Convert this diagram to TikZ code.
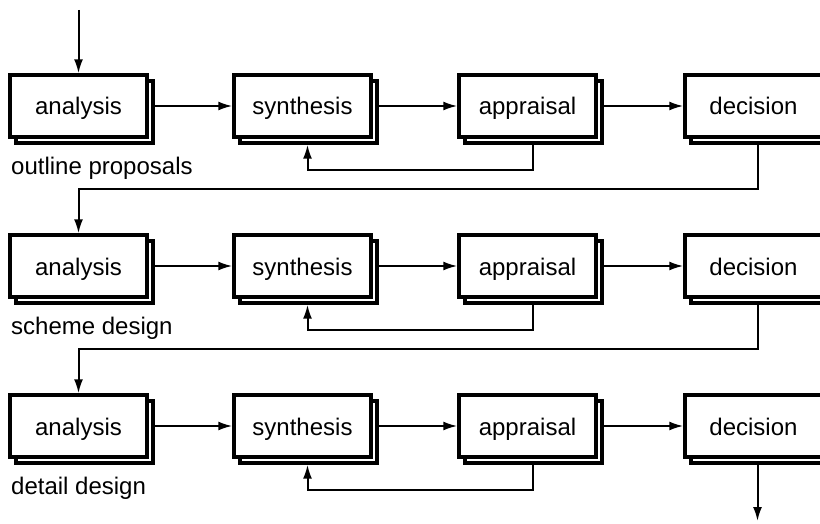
\documentclass[tikz,border=0pt]{standalone}
\usepackage{fontspec}
\setmainfont{Liberation Sans}
\usetikzlibrary{arrows.meta,shadows}
\tikzset{
    stage/.style={draw=black, fill=white, line width=3.4pt, minimum width=137pt, minimum height=62pt,
        inner sep=0pt, text height=18pt, text depth=0pt, font=\fontsize{24}{28}\selectfont,
        copy shadow={shadow xshift=6pt, shadow yshift=-6pt, draw=black, fill=white, line width=3.4pt}},
    link/.style={draw=black, line width=2pt, -{Latex[length=14pt,width=9pt]}},
    caption/.style={anchor=west, inner sep=0pt, font=\fontsize{24}{28}\selectfont}
}
\begin{document}
\begin{tikzpicture}[x=1pt,y=-1pt]
    \useasboundingbox (0,0) rectangle (820,524);
    \clip (0,0) rectangle (820,524);

    \foreach \r/\lbl in {1/outline proposals, 2/scheme design, 3/detail design}
        {\node[stage] (an\r) at (78.5,{106+160*(\r-1)}) {analysis};
        \node[stage] (sy\r) at (302.5,{106+160*(\r-1)}) {synthesis};
        \node[stage] (ap\r) at (527.5,{106+160*(\r-1)}) {appraisal};
        \node[stage] (de\r) at (753.5,{106+160*(\r-1)}) {decision};
        \node[caption] (cap\r) at (11,{168+160*(\r-1)}) {\lbl};
        \draw[link] ([xshift=6pt]an\r.east) -- (sy\r.west);
        \draw[link] ([xshift=6pt]sy\r.east) -- (ap\r.west);
        \draw[link] ([xshift=6pt]ap\r.east) -- (de\r.west);
        \draw[link] ([xshift=5pt,yshift=-6pt]ap\r.south) -- ++(0,25) -| ([xshift=5pt,yshift=-6pt]sy\r.south);}

    \foreach \r/\n in {1/2, 2/3}
        {\draw[link] ([xshift=4pt,yshift=-6pt]de\r.south) -- ++(0,44) -| (an\n.north);}

    \coordinate (start) at (80,10);
    \coordinate (finish) at (757.5,521);
    \draw[link] (an1.north |- start) -- (an1.north);
    \draw[link] ([xshift=4pt,yshift=-6pt]de3.south) -- (finish);

\end{tikzpicture}
\end{document}
